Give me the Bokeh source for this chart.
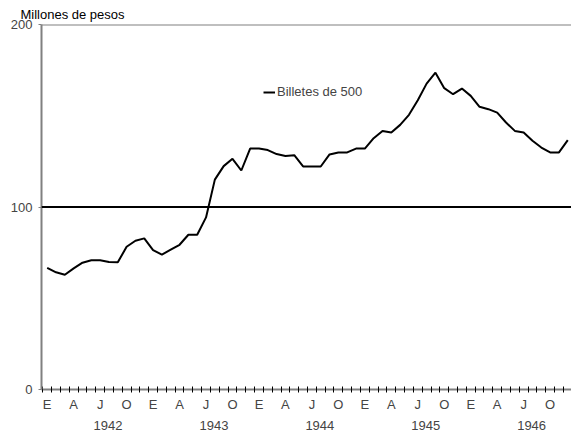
from bokeh.plotting import figure
from bokeh.models import FixedTicker, LinearAxis, Span, Legend, LegendItem, Range1d, Label
from bokeh.embed import file_html
from bokeh.resources import INLINE

years = ["1942", "1943", "1944", "1945", "1946"]
quarter_letters = ["E", "A", "J", "O"]
quarter_start_months = [0, 3, 6, 9]
y_ticks = [0, 100, 200]
reference_level = 100
unit_label = "Millones de pesos"

# Billetes de 500, millones de pesos, monthly Jan 1942 - Dec 1946
billetes_500 = [
    66.6, 64.2, 62.9, 66.4, 69.5, 70.8, 70.8, 69.9, 69.7, 78.2, 81.5, 82.8,
    76.4, 73.9, 76.6, 79.3, 84.8, 84.8, 94.3, 115.0, 122.4, 126.4, 120.0, 132.0,
    132.0, 131.2, 129.0, 128.0, 128.4, 122.2, 122.2, 122.2, 128.8, 129.9, 129.9, 132.0,
    132.0, 137.7, 141.7, 140.8, 145.0, 150.5, 158.5, 167.6, 173.6, 165.1, 161.8, 164.9,
    160.9, 154.9, 153.6, 151.7, 146.3, 141.7, 140.8, 136.3, 132.6, 129.9, 129.9, 136.6,
]
month_index = list(range(len(billetes_500)))

FONT = "Liberation Sans"
FS = "13px"
GRAY = "#808080"
W, H = 571, 436
BL, BR, BT, BB = 41, 0, 24, 47

p = figure(width=W, height=H, output_backend="svg", toolbar_location=None,
           x_range=Range1d(-0.646, 59.42), y_range=Range1d(0, 200),
           min_border_left=BL, min_border_right=BR, min_border_top=BT, min_border_bottom=BB)
p.outline_line_color = None
p.grid.visible = False
p.background_fill_color = "white"

# unit label above the y axis (in the top side panel)
p.add_layout(Label(x=-21, y=10, x_units="screen", y_units="screen",
                   text=unit_label, text_font=FONT, text_font_size=FS,
                   text_align="left", text_baseline="middle", text_color="black"), "above")

# y axis
p.yaxis.ticker = FixedTicker(ticks=y_ticks)
p.yaxis.axis_line_color = GRAY
p.yaxis.axis_line_width = 2
p.yaxis.major_tick_line_color = GRAY
p.yaxis.major_tick_out = 3
p.yaxis.major_tick_in = 0
p.yaxis.minor_tick_line_color = None
p.yaxis.major_label_text_font = FONT
p.yaxis.major_label_text_font_size = FS
p.yaxis.major_label_standoff = 6

# x axis: month ticks (minor) and quarter letters (major labels)
n_years = len(years)
quarter_pos = [12 * k + m for k in range(n_years) for m in quarter_start_months]
boundaries = [i - 0.5 for i in range(12 * n_years + 1)]
xa = p.xaxis[0]
xa.ticker = FixedTicker(ticks=quarter_pos, minor_ticks=boundaries)
xa.major_label_overrides = {q: quarter_letters[j % 4] for j, q in enumerate(quarter_pos)}
xa.axis_line_color = GRAY
xa.axis_line_width = 2
xa.major_tick_line_color = None
xa.major_tick_in = 0
xa.major_tick_out = 0
xa.minor_tick_line_color = "black"
xa.minor_tick_in = 3
xa.minor_tick_out = 3
xa.major_label_text_font = FONT
xa.major_label_text_font_size = FS
xa.major_label_standoff = 4

year_pos = [12 * k + 6.9 for k in range(n_years)]
ya = LinearAxis(ticker=FixedTicker(ticks=year_pos),
                major_label_overrides={yp: years[k] for k, yp in enumerate(year_pos)})
ya.axis_line_color = None
ya.major_tick_line_color = None
ya.minor_tick_line_color = None
ya.major_tick_in = 0
ya.major_tick_out = 0
ya.major_label_text_font = FONT
ya.major_label_text_font_size = FS
ya.major_label_standoff = 6
p.add_layout(ya, "below")

# top border line and reference line
p.add_layout(Span(location=y_ticks[-1], dimension="width", line_color=GRAY, line_width=2))
p.add_layout(Span(location=reference_level, dimension="width", line_color="black", line_width=2))

r = p.line(month_index, billetes_500, line_color="black", line_width=2)

legend = Legend(items=[LegendItem(label="Billetes de 500", renderers=[r])],
                location=(222, 290), border_line_color=None, background_fill_alpha=0,
                label_text_font=FONT, label_text_font_size=FS,
                glyph_width=12, glyph_height=14, label_height=14, label_standoff=2,
                padding=0, margin=0, spacing=0)
p.add_layout(legend)

open("out.html", "w").write(file_html(p, INLINE))
